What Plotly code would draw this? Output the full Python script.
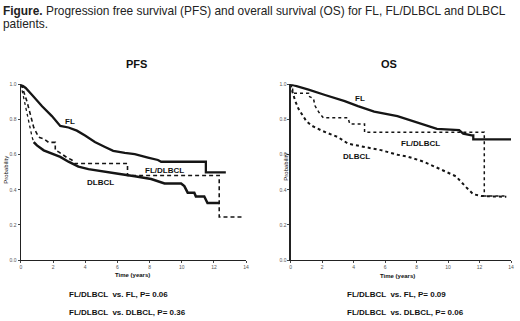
import plotly.graph_objects as go

# ---------------- data ----------------
# Kaplan-Meier curves; repeated times mark vertical drops.
pfs_fl_t = [0, 0.3, 0.7, 1.32, 1.93, 2.45, 2.96, 3.48, 3.99, 4.6, 5.23, 5.74, 6.46, 7.08, 7.9, 8.52, 8.72,
            11.5, 11.5, 12.74]
pfs_fl_p = [1.0, 0.98, 0.94, 0.876, 0.82, 0.764, 0.755, 0.737, 0.709, 0.672, 0.644, 0.622, 0.61, 0.603,
            0.584, 0.57, 0.56, 0.56, 0.499, 0.499]

pfs_mix_t = [0, 0.08, 0.39, 0.6, 0.8, 1.11, 1.42, 1.73, 2.14, 2.14, 2.35, 2.86, 3.17, 3.33, 6.63, 6.63,
             12.33, 12.33, 13.87]
pfs_mix_p = [1.0, 0.987, 0.9, 0.83, 0.755, 0.70, 0.69, 0.67, 0.67, 0.625, 0.616, 0.584, 0.57, 0.55, 0.55,
             0.482, 0.482, 0.245, 0.245]

pfs_dl_t = [0, 0.05, 0.29, 0.49, 0.70, 0.8, 1.0, 1.42, 1.93, 2.45, 2.96, 3.58, 4.2, 5.0, 6.05, 7.08, 8.1,
            8.93, 9.96, 10.16, 10.37, 10.78, 10.88, 11.4, 11.6, 12.33]
pfs_dl_p = [1.0, 0.98, 0.885, 0.79, 0.70, 0.672, 0.653, 0.625, 0.607, 0.588, 0.56, 0.532, 0.518, 0.505,
            0.492, 0.477, 0.462, 0.436, 0.436, 0.421, 0.384, 0.384, 0.362, 0.362, 0.325, 0.325]

os_fl_t = [0, 0.5, 1.13, 2.18, 3.43, 4.27, 5.3, 6.78, 8.03, 9.29, 10.7, 10.96, 11.5, 11.6, 11.6, 14.0]
os_fl_p = [1.0, 0.985, 0.97, 0.94, 0.905, 0.877, 0.845, 0.82, 0.784, 0.747, 0.74, 0.72, 0.71, 0.71, 0.687,
           0.687]

os_mix_t = [0, 0.12, 0.12, 1.13, 1.13, 1.44, 1.55, 1.8, 2.07, 3.64, 3.75, 4.69, 4.69, 12.3, 12.3, 13.7]
os_mix_p = [1.0, 1.0, 0.95, 0.95, 0.933, 0.92, 0.877, 0.84, 0.81, 0.81, 0.775, 0.775, 0.728, 0.728, 0.365,
            0.365]

os_dl_t = [0, 0.1, 0.29, 0.5, 0.71, 1.0, 1.34, 1.97, 3.0, 3.64, 4.69, 5.73, 6.78, 7.4, 8.46, 9.5, 10.5,
           11.2, 11.6, 12.1, 13.7]
os_dl_p = [1.0, 0.96, 0.905, 0.86, 0.83, 0.79, 0.765, 0.737, 0.70, 0.663, 0.644, 0.626, 0.60, 0.59, 0.56,
           0.52, 0.477, 0.41, 0.375, 0.365, 0.36]

x_ticks = [0, 2, 4, 6, 8, 10, 12, 14]
y_ticks = [0.0, 0.2, 0.4, 0.6, 0.8, 1.0]

caption_1 = "<b>Figure.</b> Progression free survival (PFS) and overall survival (OS) for FL, FL/DLBCL and DLBCL"
caption_2 = "patients."
pfs_tests = ["FL/DLBCL  vs. FL, P= 0.06", "FL/DLBCL  vs. DLBCL, P= 0.36"]
os_tests = ["FL/DLBCL  vs. FL, P= 0.09", "FL/DLBCL  vs. DLBCL, P= 0.06"]

# ---------------- figure ----------------
W, H = 520, 321
fig = go.Figure()


def px(x):
    return x / W


def py(y):
    return 1 - y / H


split = 5  # index where the PFS DLBCL curve becomes dense (censor marks make it look thick)
ink = "#151515"

fig.add_trace(go.Scatter(x=pfs_fl_t, y=pfs_fl_p, mode="lines", line=dict(color=ink, width=2.3),
                         xaxis="x", yaxis="y"))
fig.add_trace(go.Scatter(x=pfs_mix_t, y=pfs_mix_p, mode="lines",
                         line=dict(color=ink, width=1.6, dash="4px,3px"), xaxis="x", yaxis="y"))
fig.add_trace(go.Scatter(x=pfs_dl_t[:split + 1], y=pfs_dl_p[:split + 1], mode="lines",
                         line=dict(color=ink, width=1.3, dash="dot"), xaxis="x", yaxis="y"))
fig.add_trace(go.Scatter(x=pfs_dl_t[split:], y=pfs_dl_p[split:], mode="lines",
                         line=dict(color=ink, width=2.5), xaxis="x", yaxis="y"))

fig.add_trace(go.Scatter(x=os_fl_t, y=os_fl_p, mode="lines", line=dict(color=ink, width=2.3),
                         xaxis="x2", yaxis="y2"))
fig.add_trace(go.Scatter(x=os_mix_t, y=os_mix_p, mode="lines",
                         line=dict(color=ink, width=1.5, dash="dot"), xaxis="x2", yaxis="y2"))
fig.add_trace(go.Scatter(x=os_dl_t, y=os_dl_p, mode="lines",
                         line=dict(color=ink, width=2.0, dash="dot"), xaxis="x2", yaxis="y2"))

axis_common = dict(showgrid=False, zeroline=False, showline=True, linecolor="#222", linewidth=1.3,
                   ticks="outside", ticklen=2, tickcolor="#444",
                   tickfont=dict(size=5, color="#555", family="Arial"))

fig.update_layout(
    width=W, height=H, margin=dict(l=0, r=0, t=0, b=0), showlegend=False, hovermode=False,
    paper_bgcolor="white", plot_bgcolor="white",
    font=dict(family="Liberation Sans, Arial", color="#111"),
    xaxis=dict(domain=[px(20), px(247)], range=[0, 14], tickvals=x_ticks, anchor="y", **axis_common),
    yaxis=dict(domain=[py(262), py(83)], range=[0, 1.0], tickvals=y_ticks, tickformat=".1f", anchor="x",
               **axis_common),
    xaxis2=dict(domain=[px(292), px(514)], range=[0, 14], tickvals=x_ticks, anchor="y2", **axis_common),
    yaxis2=dict(domain=[py(262), py(83)], range=[0, 1.0], tickvals=y_ticks, tickformat=".1f", anchor="x2",
                **axis_common),
)
for tr in fig.data:
    tr.cliponaxis = False

ann = []


def A(text, x, y, size, bold=False, xanchor="center", angle=0, color="#111"):
    ann.append(dict(text=f"<b>{text}</b>" if bold else text, x=px(x), y=py(y), xref="paper", yref="paper",
                    showarrow=False, xanchor=xanchor, yanchor="middle", textangle=angle, borderpad=0,
                    font=dict(size=size, color=color, family="Liberation Sans, Arial")))


A(caption_1, 1, 8, 11.9, xanchor="left", color="#222")
A(caption_2, 1, 21, 11.9, xanchor="left", color="#222")
A("PFS", 137, 62, 11, bold=True)
A("OS", 391, 62, 11, bold=True)
A("Probability", 5, 170, 6, angle=-90)
A("Probability", 287, 167, 6, angle=-90)
A("Time (years)", 133, 277, 6, bold=True)
A("Time (years)", 400, 278, 6, bold=True)
A("FL", 70, 121, 8, bold=True)
A("FL/DLBCL", 165, 171, 8, bold=True)
A("DLBCL", 100, 183, 8, bold=True)
A("FL", 362, 97, 8, bold=True)
A("FL/DLBCL", 423, 143, 8, bold=True)
A("DLBCL", 358, 156, 8, bold=True)
A(pfs_tests[0], 68, 297, 8, bold=True, xanchor="left")
A(pfs_tests[1], 68, 315, 8, bold=True, xanchor="left")
A(os_tests[0], 348, 297, 8, bold=True, xanchor="left")
A(os_tests[1], 348, 315, 8, bold=True, xanchor="left")
fig.update_layout(annotations=ann)

fig.write_html("out.html", config={"displayModeBar": False, "staticPlot": True},
               post_script="document.body.style.margin='0';document.documentElement.style.margin='0';")
